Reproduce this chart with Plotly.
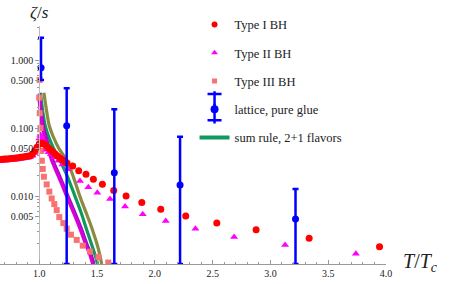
import plotly.graph_objects as go

# ---- data ----
T_I = [0.66,0.68,0.70,0.72,0.74,0.76,0.78,0.80,0.82,0.84,0.86,0.88,0.90,0.92,0.94,0.96,0.98,1.00,1.02,1.04,1.06,1.08,1.10,1.12,1.14,1.16,1.18,1.20,1.22,1.24,
       1.289,1.341,1.404,1.468,1.546,1.644,1.751,1.887,2.051,2.267,2.536,2.876,3.335,3.944]
V_I = [0.0345,0.0347,0.0349,0.0351,0.0353,0.0356,0.0359,0.0362,0.0366,0.0370,0.0375,0.0380,0.0385,0.0392,0.0410,0.0460,0.0520,0.0580,0.0600,0.0580,0.0550,0.0510,0.0470,0.0440,0.0410,0.0385,0.0360,0.0340,0.0320,0.0305,
       0.0276,0.0236,0.0209,0.0176,0.0149,0.0120,0.0100,0.0080,0.0064,0.0051,0.0040,0.0032,0.0024,0.0018]

T_II = [0.66,0.68,0.70,0.72,0.74,0.76,0.78,0.80,0.82,0.84,0.86,0.88,0.90,0.92,0.94,0.96,0.98,1.00,1.01,1.02,1.04,1.06,1.08,1.10,1.13,
        1.165,1.20,1.246,1.352,1.424,1.502,1.612,1.742,1.895,2.094,2.351,2.686,3.127,3.739]
V_II = [0.0328,0.0330,0.0332,0.0334,0.0336,0.0338,0.0341,0.0344,0.0348,0.0352,0.0356,0.0361,0.0366,0.0373,0.0390,0.0430,0.0520,0.0700,0.0790,0.0700,0.0560,0.0480,0.0440,0.0410,0.0370,
        0.0330,0.0290,0.0247,0.0166,0.0134,0.0112,0.0090,0.0070,0.0054,0.0043,0.0033,0.0025,0.0019,0.00142]

T_III = [1.003,0.999,1.004,1.010,1.014,1.017,1.022,1.030,1.040,1.064,1.087,1.107,1.130,1.151,1.173,1.208,1.237,1.274,1.324,1.376,1.439,1.511,1.597]
V_III = [0.51,0.28,0.165,0.100,0.067,0.046,0.033,0.025,0.0192,0.0148,0.0116,0.0092,0.0076,0.0062,0.0049,0.0040,0.0033,0.0027,0.00226,0.00186,0.00152,0.00127,0.00105]

T_lat = [1.015, 1.237, 1.649, 2.218, 3.217]
V_lat = [0.77, 0.108, 0.022, 0.0145, 0.00459]
V_lat_hi = [2.13, 0.384, 0.188, 0.0745, 0.0127]
V_lat_lo = [0.51, 0.001, 0.001, 0.001, 0.001]

T_olive = [1.040,1.050,1.065,1.087,1.120,1.170,1.240,1.300,1.352,1.400,1.439,1.480,1.510,1.540]
V_olive = [0.33,0.25,0.17,0.107,0.075,0.050,0.033,0.018,0.0098,0.0060,0.0040,0.0025,0.0017,0.0010]
T_green = [1.010,1.020,1.030,1.050,1.080,1.120,1.180,1.240,1.310,1.360,1.410,1.450,1.480,1.505]
V_green = [0.33,0.24,0.175,0.11,0.075,0.052,0.033,0.020,0.0098,0.0058,0.0032,0.0020,0.0014,0.0010]
T_purple = [1.000,1.010,1.020,1.035,1.060,1.090,1.120,1.180,1.250,1.310,1.367,1.410,1.445,1.474]
V_purple = [0.32,0.23,0.165,0.107,0.072,0.048,0.033,0.019,0.0098,0.0056,0.0032,0.0020,0.00143,0.0010]
T_magenta = [0.995,1.002,1.010,1.024,1.048,1.078,1.108,1.168,1.238,1.298,1.355,1.398,1.433,1.462]
V_magenta = [0.30,0.23,0.165,0.107,0.072,0.048,0.033,0.019,0.0098,0.0056,0.0032,0.0020,0.00143,0.0010]

y_tickvals = [0.005, 0.01, 0.05, 0.1, 0.5, 1.0]
y_ticktext = ["0.005", "0.010", "0.050", "0.100", "0.500", "1.000"]
x_tickvals = [1.0, 1.5, 2.0, 2.5, 3.0, 3.5, 4.0]
x_ticktext = ["1.0", "1.5", "2.0", "2.5", "3.0", "3.5", "4.0"]

FONT = "'Liberation Serif', 'Times New Roman', Times, serif"
RED = "#ff0000"; MAG = "#ff00ff"; SAL = "#f87272"; BLUE = "#0000ff"
GREEN = "#0f9960"; OLIVE = "#8a8a40"; PURPLE = "#9a10c0"; MAGC = "#d800d8"

X_MIN, X_MAX = 0.66, 4.0

fig = go.Figure()
for T, V, c in [(T_olive, V_olive, OLIVE), (T_green, V_green, GREEN),
                (T_purple, V_purple, PURPLE), (T_magenta, V_magenta, MAGC)]:
    fig.add_trace(go.Scatter(x=T, y=V, mode="lines", line=dict(color=c, width=3.2, shape="spline"),
                             showlegend=False, hoverinfo="skip"))

fig.add_trace(go.Scatter(x=T_III, y=V_III, mode="markers", showlegend=False,
                         marker=dict(symbol="square", size=6, color=SAL)))
fig.add_trace(go.Scatter(x=T_II, y=V_II, mode="markers", showlegend=False,
                         marker=dict(symbol="triangle-up", size=7, color=MAG)))
fig.add_trace(go.Scatter(x=T_I, y=V_I, mode="markers", showlegend=False,
                         marker=dict(symbol="circle", size=7, color=RED)))
fig.add_trace(go.Scatter(x=T_lat, y=V_lat, mode="markers", showlegend=False,
                         marker=dict(symbol="circle", size=7, color=BLUE),
                         error_y=dict(type="data", symmetric=False,
                                      array=[h - v for h, v in zip(V_lat_hi, V_lat)],
                                      arrayminus=[v - l for l, v in zip(V_lat_lo, V_lat)],
                                      color=BLUE, thickness=2.5, width=3)))

# legend-only entries
leg = [("Type I BH", dict(symbol="circle", size=6, color=RED), "markers", None),
       ("Type II BH", dict(symbol="triangle-up", size=6, color=MAG), "markers", None),
       ("Type III BH", dict(symbol="square", size=5, color=SAL), "markers", None),
       ("lattice, pure glue", dict(symbol="circle", size=8, color=BLUE), "markers", None),
       ("sum rule, 2+1 flavors", None, "lines", dict(color=GREEN, width=4))]
for i, (name, mk, mode, ln) in enumerate(leg):
    kw = dict(x=[None], y=[None], mode=mode, name=name, legendgroup=name, legendrank=i + 1)
    if mk: kw["marker"] = mk
    if ln: kw["line"] = ln
    fig.add_trace(go.Scatter(**kw))

# error-bar glyph for the lattice legend icon, built from extra one-item legends
LEG_X = 0.504
icon_parts = [("legend2", "line-ns-open", 14, 0.6197),
              ("legend3", "line-ns-open", 14, 0.5672),
              ("legend4", "line-ew-open", 10, 0.6492),
              ("legend5", "line-ew-open", 10, 0.5399)]
extra_legends = {}
for lg, sym, sz, ly in icon_parts:
    fig.add_trace(go.Scatter(x=[None], y=[None], mode="markers", name=" ", legend=lg,
                             marker=dict(symbol=sym, size=sz, color=BLUE,
                                         line=dict(color=BLUE, width=2.5))))
    extra_legends[lg] = dict(x=LEG_X, y=ly, xanchor="left", yanchor="bottom",
                             bgcolor="rgba(0,0,0,0)", itemwidth=30,
                             font=dict(family=FONT, size=12.5, color="#222"))

ypos = (1.0 - X_MIN) / (X_MAX - X_MIN)
minor_y = [k * 10.0 ** n for n in range(-3, 1) for k in range(2, 10) if k * 10.0 ** n < 3.1]

fig.update_layout(
    width=457, height=284,
    margin=dict(l=0, r=71, t=26, b=20, autoexpand=False),
    paper_bgcolor="white", plot_bgcolor="white",
    font=dict(family=FONT, size=10, color="#222"),
    xaxis=dict(range=[X_MIN, X_MAX], showgrid=False, zeroline=False,
               showline=True, linecolor="#999", linewidth=1,
               tickvals=x_tickvals, ticktext=x_ticktext, ticks="inside", ticklen=4,
               tickcolor="#999", tickfont=dict(family=FONT, size=10, color="#222"),
               minor=dict(dtick=0.1, tick0=0.0, ticks="inside", ticklen=2.5, tickcolor="#999", showgrid=False)),
    yaxis=dict(type="log", range=[-3, 0.5], showgrid=False, zeroline=False,
               anchor="free", position=ypos,
               showline=True, linecolor="#bbb", linewidth=1,
               tickvals=y_tickvals, ticktext=y_ticktext, ticks="outside", ticklen=4,
               tickcolor="#999", tickfont=dict(family=FONT, size=10, color="#222"),
               minor=dict(tickvals=minor_y, ticks="outside", ticklen=2.5, tickcolor="#999", showgrid=False)),
    legend=dict(x=LEG_X, y=0.4666, xanchor="left", yanchor="bottom", bgcolor="rgba(0,0,0,0)",
                font=dict(family=FONT, size=12.5, color="#222"), tracegroupgap=9,
                itemwidth=30),
    annotations=[
        dict(text="<i>ζ</i>/<i>s</i>", xref="paper", yref="paper", x=ypos, y=1.055,
             xanchor="center", yanchor="middle", showarrow=False,
             font=dict(family=FONT, size=17, color="#222")),
        dict(text="<i>T</i>/<i>T</i><sub><i>c</i></sub>", xref="paper", yref="paper", x=1.038, y=0.005,
             xanchor="left", yanchor="middle", showarrow=False,
             font=dict(family=FONT, size=20, color="#222")),
    ],
)
fig.update_layout(**extra_legends)

fig.write_html("out.html", config={"displayModeBar": False},
               post_script="document.body.style.margin='0px';")
